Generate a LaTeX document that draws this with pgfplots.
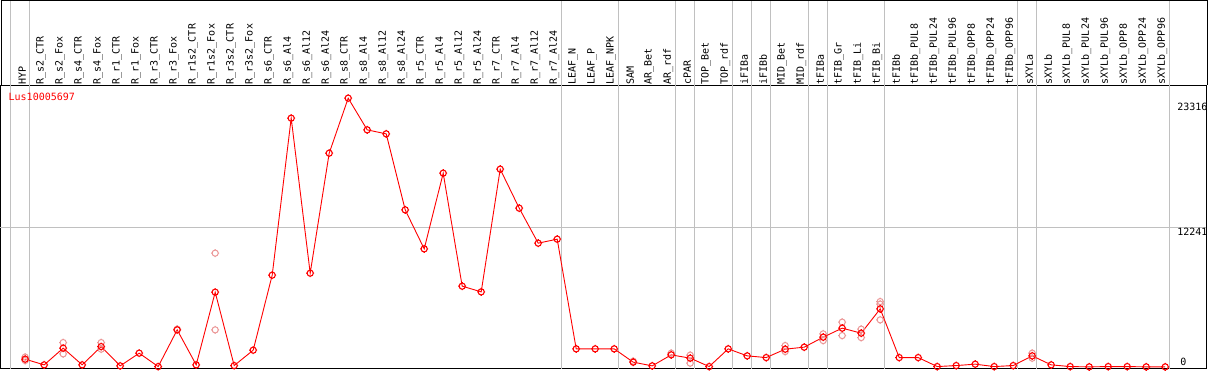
\documentclass[border=0pt]{standalone}
\usepackage{fontspec}
\setmainfont{DejaVu Sans Mono}
\usepackage{pgfplots}
\pgfplotsset{compat=1.18}
\definecolor{linered}{RGB}{255,0,0}
\definecolor{reppink}{RGB}{235,150,150}
\definecolor{gridgray}{RGB}{192,192,192}
\pgfdeclareplotmark{tcirc}{%
  \pgfpathcircle{\pgfpointorigin}{\pgfplotmarksize}%
  \pgfpathmoveto{\pgfqpoint{0pt}{\pgfplotmarksize}}\pgfpathlineto{\pgfqpoint{0pt}{1.3\pgfplotmarksize}}%
  \pgfpathmoveto{\pgfqpoint{0pt}{-\pgfplotmarksize}}\pgfpathlineto{\pgfqpoint{0pt}{-1.3\pgfplotmarksize}}%
  \pgfpathmoveto{\pgfqpoint{\pgfplotmarksize}{0pt}}\pgfpathlineto{\pgfqpoint{1.3\pgfplotmarksize}{0pt}}%
  \pgfpathmoveto{\pgfqpoint{-\pgfplotmarksize}{0pt}}\pgfpathlineto{\pgfqpoint{-1.3\pgfplotmarksize}{0pt}}%
  \pgfusepathqstroke}
\begin{document}
\fontsize{10}{12}\selectfont
\begin{tikzpicture}[x=1pt,y=1pt]
\useasboundingbox (0,0) rectangle (1209,370);
\begin{axis}[
  at={(1,1)}, anchor=south west,
  scale only axis, width=1206pt, height=283.5pt,
  xmin=-1.3158, xmax=62.158, ymin=-176, ymax=24772,
  clip=false,
  axis line style={line width=0.8pt},
  xtick={0,...,60},
  xticklabels={HYP,R\_s2\_CTR,R\_s2\_Fox,R\_s4\_CTR,R\_s4\_Fox,R\_r1\_CTR,R\_r1\_Fox,R\_r3\_CTR,R\_r3\_Fox,R\_r1s2\_CTR,R\_r1s2\_Fox,R\_r3s2\_CTR,R\_r3s2\_Fox,R\_s6\_CTR,R\_s6\_Al4,R\_s6\_Al12,R\_s6\_Al24,R\_s8\_CTR,R\_s8\_Al4,R\_s8\_Al12,R\_s8\_Al24,R\_r5\_CTR,R\_r5\_Al4,R\_r5\_Al12,R\_r5\_Al24,R\_r7\_CTR,R\_r7\_Al4,R\_r7\_Al12,R\_r7\_Al24,LEAF\_N,LEAF\_P,LEAF\_NPK,SAM,AR\_Bet,AR\_rdf,cPAR,TOP\_Bet,TOP\_rdf,iFIBa,iFIBb,MID\_Bet,MID\_rdf,tFIBa,tFIB\_Gr,tFIB\_Li,tFIB\_Bi,tFIBb,tFIBb\_PUL8,tFIBb\_PUL24,tFIBb\_PUL96,tFIBb\_OPP8,tFIBb\_OPP24,tFIBb\_OPP96,sXYLa,sXYLb,sXYLb\_PUL8,sXYLb\_PUL24,sXYLb\_PUL96,sXYLb\_OPP8,sXYLb\_OPP24,sXYLb\_OPP96},
  xticklabel pos=upper,
  xticklabel style={rotate=90, anchor=west, yshift=3pt, inner sep=1pt, font=\fontsize{10}{12}\selectfont},
  major tick length=0pt,
  ytick=\empty,
]
\pgfplotsinvokeforeach{-0.7895,0.2105,28.2105,31.2105,34.2105,35.2105,37.2105,38.2105,39.2105,41.2105,42.2105,45.2105,52.2105,53.2105,60.2105}{
  \draw[gridgray, line width=0.8pt] (axis cs:#1,-176) -- (axis cs:#1,32252);
}
\draw[gridgray, line width=0.8pt] (axis cs:-1.3158,12241) -- (axis cs:62.158,12241);

\addplot[only marks, reppink, mark=tcirc, mark size=3.1pt, mark options={line width=1pt}] coordinates {
(0,860) (0,560) (2,2138) (2,1144) (4,2138) (4,1558) (8,3318) (10,10006) (10,3256)
(32,500) (34,1206) (35,326) (35,1030) (40,1874) (40,1346)
(42,2904) (42,2314) (43,3934) (43,2754) (44,3318) (44,2578)
(45,5746) (45,5518) (45,4136) (53,1206) (53,766)
};
\addplot[linered, line width=0.9pt, mark=tcirc, mark size=3.1pt, mark options={line width=1.1pt}] coordinates {
(0,678) (1,176) (2,1646) (3,176) (4,1786) (5,88) (6,1206) (7,26) (8,3256) (9,176)
(10,6574) (11,114) (12,1470) (13,8070) (14,21886) (15,8246) (16,18806) (17,23646) (18,20856) (19,20504)
(20,13816) (21,10384) (22,17046) (23,7102) (24,6600) (25,17398) (26,13966) (27,10886) (28,11238) (29,1584)
(30,1584) (31,1584) (32,414) (33,88) (34,1056) (35,766) (36,26) (37,1584) (38,968) (39,818)
(40,1558) (41,1734) (42,2614) (43,3406) (44,2966) (45,5104) (46,818) (47,818) (48,26) (49,114)
(50,238) (51,26) (52,114) (53,968) (54,176) (55,26) (56,0) (57,26) (58,26) (59,0) (60,0)
};

\node[anchor=west, text=linered, inner sep=0pt] at (axis cs:-0.879,23786) {Lus10005697};
\node[anchor=west, inner sep=0pt] at (axis cs:60.63,22880) {23316};
\node[anchor=west, inner sep=0pt] at (axis cs:60.63,11880) {12241};
\node[anchor=west, inner sep=0pt] at (axis cs:60.79,440) {0};
\end{axis}
\draw[line width=0.8pt] (1,284.5) -- (1,369.5) -- (1207,369.5) -- (1207,284.5);
\end{tikzpicture}
\end{document}
